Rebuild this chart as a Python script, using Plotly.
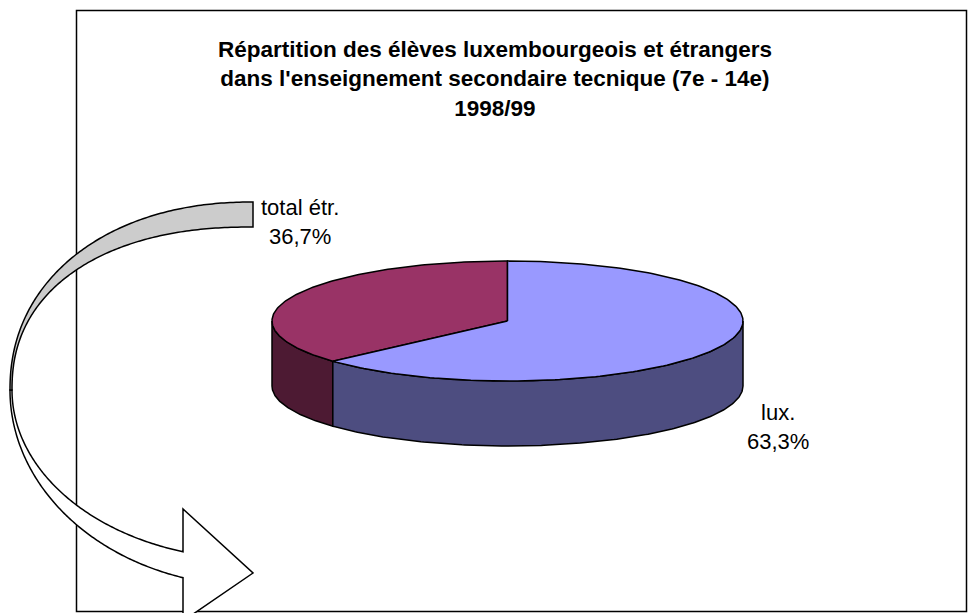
import numpy as np
import plotly.graph_objects as go

# ---- data ----
labels = ["total étr.", "lux."]
values = [36.7, 63.3]
label_texts = ["total étr.<br>36,7%", "lux.<br>63,3%"]
top_colors = ["#993366", "#9999FF"]
side_colors = ["#4D1A33", "#4D4D80"]
title_lines = ["Répartition des élèves luxembourgeois et étrangers",
               "dans l'enseignement secondaire tecnique (7e - 14e)",
               "1998/99"]

W, H = 968, 613
# pie geometry (pixel space)
CX, CY, A, B, DEPTH = 507.5, 321.0, 235.5, 60.0, 65.0

fig = go.Figure()

total = sum(values)
start = 90.0  # 12 o'clock, counterclockwise
angles = []
for v in values:
    sweep = 360.0 * v / total
    angles.append((start, start + sweep))
    start += sweep


def arc(t0, t1, yoff=0.0, n=200):
    t = np.radians(np.linspace(t0, t1, n))
    return CX + A * np.cos(t), CY + yoff - B * np.sin(t)


# sides (front half only: 180..360 deg)
for (t0, t1), col in zip(angles, side_colors):
    segs = []
    for shift in (0, 360, -360):
        a0, a1 = max(t0 + shift, 180), min(t1 + shift, 360)
        if a1 > a0:
            segs.append((a0, a1))
    for a0, a1 in segs:
        xt, yt = arc(a0, a1)
        xb, yb = arc(a1, a0, DEPTH)
        xs = np.concatenate([xt, xb, xt[:1]])
        ys = np.concatenate([yt, yb, yt[:1]])
        fig.add_trace(go.Scatter(x=xs, y=ys, mode="lines", fill="toself",
                                 fillcolor=col, line=dict(color="black", width=1.5),
                                 hoverinfo="skip", showlegend=False))

# tops
for (t0, t1), col in zip(angles, top_colors):
    xa, ya = arc(t0, t1)
    xs = np.concatenate([[CX], xa, [CX]])
    ys = np.concatenate([[CY], ya, [CY]])
    fig.add_trace(go.Scatter(x=xs, y=ys, mode="lines", fill="toself",
                             fillcolor=col, line=dict(color="black", width=1.5),
                             hoverinfo="skip", showlegend=False))

# ---- decorative curved arrow ----
def sell(cx, cy, rx, ry, t0, t1, n=140, p=2.0):
    t = np.radians(np.linspace(t0, t1, n))
    c, s = np.cos(t), np.sin(t)
    e = 2.0 / p
    return cx + rx * np.sign(c) * np.abs(c) ** e, cy - ry * np.sign(s) * np.abs(s) ** e


def path_from(xs, ys, close=True):
    p = "M " + " L ".join(f"{x:.2f},{y:.2f}" for x, y in zip(xs, ys))
    return p + (" Z" if close else "")

# grey top band
ax1, ay1 = sell(253, 390, 243, 188, 90, 180, p=2.15)
ax2, ay2 = sell(253, 390, 241, 163, 180, 90, p=2.25)
grey_x = np.concatenate([ax1, ax2])
grey_y = np.concatenate([ay1, ay2])

# white lower band + head
t_end_o = 180 + np.degrees(np.arccos(70 / 243))
t_end_i = 180 + np.degrees(np.arccos(70 / 241))
bx1, by1 = sell(253, 390, 243, 196, 180, t_end_o)
bx2, by2 = sell(253, 390, 241, 169, t_end_i, 180)
head_x = [183, 183, 253, 183, 183]
head_y = [by1[-1], 621, 573, 509, by2[0]]
white_x = np.concatenate([bx1, head_x, bx2])
white_y = np.concatenate([by1, head_y, by2])

shapes = [
    dict(type="path", path=path_from(white_x, white_y), xref="x", yref="y",
         fillcolor="white", line=dict(color="black", width=1.5), layer="above"),
    dict(type="path", path=path_from(grey_x, grey_y), xref="x", yref="y",
         fillcolor="#CCCCCC", line=dict(color="black", width=1.5), layer="above"),
    dict(type="rect", x0=76.5, y0=10.5, x1=966.5, y1=611.5, xref="x", yref="y",
         line=dict(color="black", width=1.5), layer="below"),
]

font = "Liberation Sans, Arial"
annotations = [
    dict(x=495, y=79, xref="x", yref="y",
         text="<b>" + "<br>".join(title_lines) + "</b>", showarrow=False,
         font=dict(family=font, size=22.5, color="black"), align="center"),
    dict(x=300, y=222, xref="x", yref="y", text=label_texts[0], showarrow=False,
         font=dict(family=font, size=22, color="black"), align="center"),
    dict(x=778, y=427, xref="x", yref="y", text=label_texts[1], showarrow=False,
         font=dict(family=font, size=22, color="black"), align="center"),
]

fig.update_layout(
    width=W, height=H, margin=dict(l=0, r=0, t=0, b=0),
    paper_bgcolor="white", plot_bgcolor="white",
    xaxis=dict(range=[0, W], visible=False, fixedrange=True),
    yaxis=dict(range=[H, 0], visible=False, fixedrange=True),
    shapes=shapes, annotations=annotations, showlegend=False,
)

fig.write_html("out.html", config={"displayModeBar": False},
               post_script="document.body.style.margin='0';document.body.style.overflow='hidden';")
